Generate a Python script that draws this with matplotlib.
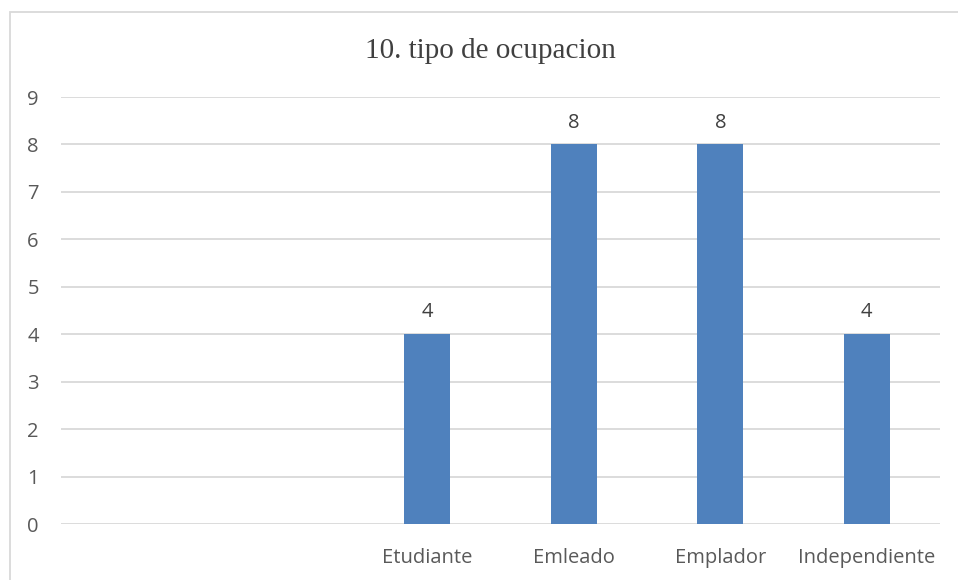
import numpy as np
import matplotlib.pyplot as plt
from matplotlib.patches import Rectangle

categories = ["", "", "Etudiante", "Emleado", "Emplador", "Independiente"]
values = [np.nan, np.nan, 4, 8, 8, 4]
title = "10. tipo de ocupacion"


def main():
    fig = plt.figure(figsize=(9.58, 5.8), dpi=100)
    ax = fig.add_axes([61 / 958, 1 - 524 / 580, 879 / 958, 427 / 580])

    x = np.arange(len(categories))
    bars = ax.bar(x, values, width=0.314, color="#4F81BD", zorder=3)

    for b, v in zip(bars, values):
        if np.isnan(v):
            continue
        ax.text(b.get_x() + b.get_width() / 2, v + 0.25, f"{int(v)}",
                ha="center", va="bottom", fontsize=14.5, color="#404040",
                family="Open Sans")

    ax.set_xlim(-0.5, len(categories) - 0.5)
    ax.set_ylim(0, 9)
    ax.set_yticks(range(10))
    ax.set_xticks(x)
    ax.set_xticklabels(categories)
    ax.yaxis.grid(True, color="#D9D9D9", linewidth=1.3, zorder=0)
    for s in ax.spines.values():
        s.set_visible(False)
    ax.tick_params(length=0, labelsize=14.5, labelcolor="#595959")
    ax.tick_params(axis="y", pad=16)
    ax.tick_params(axis="x", pad=17)
    for lab in ax.get_xticklabels() + ax.get_yticklabels():
        lab.set_family("Open Sans")

    fig.text(490 / 958, 1 - 51 / 580, title, ha="center", va="center",
             fontsize=21, color="#404040", family="Liberation Serif")

    fig.patches.append(Rectangle((9.5 / 958, -0.1), 1.0, 1 - 11.5 / 580 + 0.1,
                                 transform=fig.transFigure, fill=False,
                                 edgecolor="#D9D9D9", linewidth=1.3))

    fig.savefig("out.png", dpi=100)


if __name__ == '__main__':
    main()
